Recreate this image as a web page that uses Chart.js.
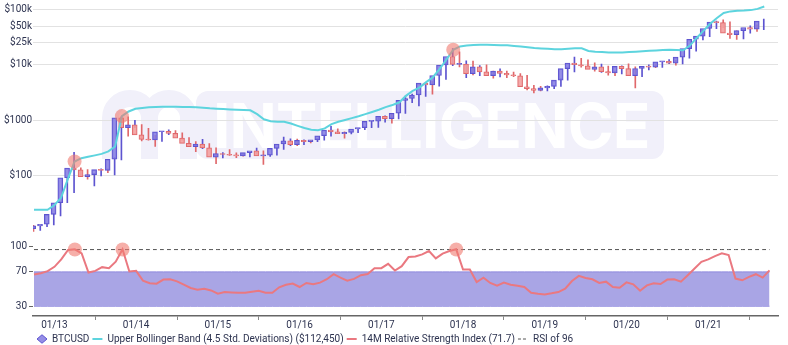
<!DOCTYPE html>
<html>
<head>
<meta charset="utf-8">
<script src="https://cdn.jsdelivr.net/npm/chart.js@4.4.1/dist/chart.umd.min.js"></script>
<style>
  html, body { margin: 0; padding: 0; background: #fff; }
  #wrap { width: 788px; height: 345px; }
</style>
</head>
<body>
<div id="wrap"><canvas id="btcChart"></canvas></div>
<script>
// monthly candles, 10/12 .. 10/21
const months = [
  '10/12','11/12','12/12',
  '01/13','02/13','03/13','04/13','05/13','06/13','07/13','08/13','09/13','10/13','11/13','12/13',
  '01/14','02/14','03/14','04/14','05/14','06/14','07/14','08/14','09/14','10/14','11/14','12/14',
  '01/15','02/15','03/15','04/15','05/15','06/15','07/15','08/15','09/15','10/15','11/15','12/15',
  '01/16','02/16','03/16','04/16','05/16','06/16','07/16','08/16','09/16','10/16','11/16','12/16',
  '01/17','02/17','03/17','04/17','05/17','06/17','07/17','08/17','09/17','10/17','11/17','12/17',
  '01/18','02/18','03/18','04/18','05/18','06/18','07/18','08/18','09/18','10/18','11/18','12/18',
  '01/19','02/19','03/19','04/19','05/19','06/19','07/19','08/19','09/19','10/19','11/19','12/19',
  '01/20','02/20','03/20','04/20','05/20','06/20','07/20','08/20','09/20','10/20','11/20','12/20',
  '01/21','02/21','03/21','04/21','05/21','06/21','07/21','08/21','09/21','10/21'
];

const open = [
  12.4, 11.2, 12.6,
  13.5, 20.4, 33, 93, 139, 129, 97, 106, 130, 126, 200, 1120,
  740, 830, 550, 455, 445, 625, 640, 585, 480, 387, 338, 375,
  320, 217, 254, 244, 236, 230, 263, 284, 230, 236, 314, 377,
  430, 368, 437, 416, 448, 531, 673, 624, 575, 608, 701, 742,
  963, 970, 1190, 1080, 1348, 2300, 2480, 2875, 4700, 4340, 6450, 9950,
  14150, 10220, 10400, 6930, 9240, 7500, 6400, 7730, 7030, 6620, 6370, 4040,
  3740, 3460, 3850, 4100, 5320, 8570, 10820, 10080, 9630, 8300, 9200, 7570,
  7190, 9390, 8600, 6410, 8630, 9450, 9140, 11350, 11650, 10780, 13800, 19700,
  29000, 33100, 45200, 58800, 57700, 37300, 35000, 41500, 47100, 43800
];
const high = [
  12.9, 12.7, 13.9,
  21, 33.5, 95, 266, 140, 130, 111, 135, 135, 215, 1165, 1160,
  1000, 840, 720, 540, 630, 680, 660, 600, 490, 415, 458, 385,
  320, 265, 300, 262, 247, 268, 317, 285, 245, 333, 500, 465,
  460, 448, 440, 468, 550, 780, 703, 624, 612, 720, 755, 975,
  1150, 1210, 1290, 1350, 2760, 2980, 2920, 4750, 5000, 6470, 11400, 19700,
  17200, 11800, 11700, 9740, 9990, 7770, 8470, 7760, 7410, 7000, 6520, 4270,
  4100, 4200, 4130, 5620, 9100, 13900, 13200, 12330, 10900, 10400, 9500, 7750,
  9580, 10500, 9200, 9470, 10070, 10400, 11440, 12480, 12070, 14100, 19900, 29300,
  41950, 58350, 61800, 64900, 59500, 41300, 42300, 50500, 52900, 66900
];
const low = [
  10, 10.5, 12.2,
  13.2, 19.1, 33, 50, 97, 88, 66, 100, 115, 105, 195, 520,
  740, 430, 440, 340, 420, 555, 565, 440, 365, 275, 310, 310,
  166, 212, 235, 214, 227, 220, 255, 162, 225, 236, 300, 350,
  350, 365, 392, 415, 440, 520, 580, 480, 570, 605, 680, 740,
  750, 930, 890, 1060, 1345, 2100, 1830, 2710, 2970, 4150, 5500, 9650,
  9200, 5900, 6600, 6430, 7060, 5770, 6100, 5880, 6150, 6200, 3560, 3120,
  3400, 3390, 3730, 4080, 5310, 7500, 9070, 9400, 7710, 7300, 6530, 6430,
  6850, 8450, 3860, 6150, 8120, 8900, 8990, 10550, 9880, 10420, 13200, 17600,
  28100, 32300, 45000, 47000, 30000, 28800, 29300, 37300, 40000, 43300
];
const close = [
  11.2, 12.6, 13.5,
  20.4, 33, 93, 139, 129, 97, 106, 130, 126, 200, 1120, 740,
  830, 550, 455, 445, 625, 640, 585, 480, 387, 338, 375, 320,
  217, 254, 244, 236, 230, 263, 284, 230, 236, 314, 377, 430,
  368, 437, 416, 448, 531, 673, 624, 575, 608, 701, 742, 963,
  970, 1190, 1080, 1348, 2300, 2480, 2875, 4700, 4340, 6450, 9950, 14150,
  10220, 10400, 6930, 9240, 7500, 6400, 7730, 7030, 6620, 6370, 4040, 3740,
  3460, 3850, 4100, 5320, 8570, 10820, 10080, 9630, 8300, 9200, 7570, 7190,
  9390, 8600, 6410, 8630, 9450, 9140, 11350, 11650, 10780, 13800, 19700, 29000,
  33100, 45200, 58800, 57700, 37300, 35000, 41500, 47100, 43800, 61300
];

const upperBand = [
  24.6, 24.6, 24.6,
  29.7, 40.4, 88, 182, 209, 222, 235, 250, 277, 340, 1197, 1450,
  1625, 1680, 1720, 1750, 1767, 1767, 1760, 1750, 1740, 1720, 1690, 1650,
  1625, 1600, 1580, 1560, 1540, 1520, 1300, 1050, 970, 950, 950, 880,
  800, 730, 680, 666, 720, 860, 950, 1020, 1100, 1190, 1300, 1420,
  1560, 1740, 1900, 2100, 2770, 3400, 3900, 4900, 6000, 8500, 12500, 18700,
  21500, 22300, 22800, 23000, 23000, 22900, 22700, 22500, 22000, 21500, 20800, 20200,
  19800, 19500, 19200, 19200, 19500, 19900, 19900, 17800, 17200, 17000, 16800, 16700,
  16800, 17000, 17300, 17600, 17900, 18200, 18500, 18700, 18500, 18300, 22300, 30600,
  41000, 55000, 70000, 86000, 92000, 94000, 95000, 97000, 102000, 112450
];

const rsi = [
  66.9, 68.4, 70.8,
  75.9, 84.5, 95.5, 96.3, 91.6, 69.2, 71.2, 75.5, 74.3, 81.8, 96.3, 70.4,
  71.2, 59.8, 56.7, 56.3, 61, 61.4, 59, 55.1, 51.2, 49.2, 50.4, 48.4,
  44.5, 46.5, 46.1, 45.7, 45.7, 46.9, 48, 45.7, 45.7, 52, 55, 56.4,
  52.4, 57.1, 55.5, 57.5, 61.4, 67.3, 63.3, 59.8, 61.8, 66.1, 67.6, 74.3,
  74.3, 79.4, 71.6, 76.7, 87.3, 88, 90.4, 94.3, 85.7, 91.2, 94.3, 96.3,
  72.7, 72.7, 58.2, 63.3, 57.1, 53.9, 57.5, 55.1, 53.9, 52.4, 45.7, 44.5,
  43.7, 45, 46.5, 50.4, 59.4, 65.3, 62.9, 61.4, 57.1, 58.6, 52.4, 51.6,
  57.8, 55.5, 48, 54.3, 56.7, 55.9, 61, 61.4, 58.6, 66.1, 73.9, 81.8,
  84.5, 88.4, 91.6, 89.6, 62.2, 60.2, 64.1, 67.3, 63.3, 71.7
];

// months where RSI touched the 96 level
const peakIdx = [6, 13, 62];
const rsiBand = [30, 70];
const rsiAlert = 96;
const priceTicks = [100, 1000, 10000, 25000, 50000, 100000];
const rsiTicks = [30, 70, 100];

const upFill = 'rgba(130,122,226,0.85)', upLine = '#5d54d0';
const dnFill = 'rgba(243,160,160,0.9)', dnLine = '#e0686b';
const bandColor = '#5dd4de';
const rsiColor = '#ea7880';
const peakColor = 'rgba(240,122,112,0.6)';
const textColor = '#2d3350';

const idx = months.map((m, i) => i);
const up = close.map((c, i) => c >= open[i]);
const yearTicks = idx.filter(i => months[i].startsWith('01/'));

function priceLabel(v) {
  return v >= 10000 ? '$' + (v / 1000) + 'k' : '$' + v;
}

const legendEntries = [
  { text: 'BTCUSD', pointStyle: 'rectRot', fillStyle: upFill, strokeStyle: upLine, lineWidth: 1 },
  { text: 'Upper Bollinger Band (4.5 Std. Deviations) ($' + upperBand[upperBand.length - 1].toLocaleString('en-US') + ')',
    pointStyle: 'line', fillStyle: bandColor, strokeStyle: bandColor, lineWidth: 2 },
  { text: '14M Relative Strength Index (' + rsi[rsi.length - 1] + ')',
    pointStyle: 'line', fillStyle: rsiColor, strokeStyle: rsiColor, lineWidth: 2 },
  { text: 'RSI of ' + rsiAlert, pointStyle: 'line', fillStyle: '#555', strokeStyle: '#555', lineWidth: 1, lineDash: [3, 2] }
];

// faint brand mark behind the plot
const watermark = {
  id: 'watermark',
  beforeDraw(chart) {
    const ctx = chart.ctx;
    ctx.save();
    ctx.fillStyle = '#f1f0fa';
    ctx.strokeStyle = '#f1f0fa';
    ctx.beginPath();
    ctx.roundRect(196, 91, 468, 68, 12);
    ctx.fill();
    ctx.lineWidth = 17;
    ctx.beginPath();
    ctx.moveTo(110.5, 159);
    ctx.arc(130, 118, 19.5, Math.PI, 0);
    ctx.lineTo(149.5, 159);
    ctx.moveTo(149.5, 118);
    ctx.arc(169, 118, 19.5, Math.PI, 0);
    ctx.lineTo(188.5, 159);
    ctx.stroke();
    ctx.fillStyle = '#ffffff';
    ctx.font = '700 62px Inter';
    ctx.textBaseline = 'alphabetic';
    const w = ctx.measureText('INTELLIGENCE').width;
    ctx.letterSpacing = ((437 - w) / 11).toFixed(1) + 'px';
    ctx.fillText('INTELLIGENCE', 213, 148);
    ctx.restore();
  }
};

const legendShift = {
  id: 'legendShift',
  afterLayout(chart) { chart.legend.left = 34; }
};

// fixed gutter, no extra room reserved for edge labels
function fitLeftAxis(s) {
  s.width = 33;
  s.paddingTop = 0;
  s.paddingBottom = 0;
}

Chart.defaults.font.family = 'Roboto';
Chart.defaults.font.size = 10;
Chart.defaults.color = textColor;

new Chart(document.getElementById('btcChart'), {
  type: 'bar',
  data: {
    datasets: [
      {
        type: 'line', label: 'peaks', xAxisID: 'xc', yAxisID: 'y',
        data: peakIdx.map(i => ({ x: i, y: upperBand[i] })),
        showLine: false, pointRadius: 7, pointBackgroundColor: peakColor, pointBorderWidth: 0, order: 0
      },
      {
        type: 'line', label: 'Upper Bollinger Band', xAxisID: 'xc', yAxisID: 'y',
        data: idx.map(i => ({ x: i, y: upperBand[i] })),
        borderColor: bandColor, borderWidth: 2, pointRadius: 0, tension: 0, order: 1
      },
      {
        label: 'BTCUSD', xAxisID: 'xc', yAxisID: 'y',
        data: idx.map(i => ({ x: i, y: [open[i], close[i]] })),
        backgroundColor: up.map(u => u ? upFill : dnFill),
        borderColor: up.map(u => u ? upLine : dnLine),
        borderWidth: 1, borderSkipped: false, barThickness: 5, minBarLength: 1, order: 2
      },
      {
        label: 'wicks', xAxisID: 'xc', yAxisID: 'y',
        data: idx.map(i => ({ x: i, y: [low[i], high[i]] })),
        backgroundColor: up.map(u => u ? upLine : dnLine),
        borderWidth: 0, barThickness: 1, order: 3
      },
      {
        type: 'line', label: 'rsi peaks', xAxisID: 'x', yAxisID: 'y2',
        data: peakIdx.map(i => ({ x: i, y: rsiAlert })),
        showLine: false, pointRadius: 7, pointBackgroundColor: peakColor, pointBorderWidth: 0, order: 4
      },
      {
        type: 'line', label: '14M RSI', xAxisID: 'x', yAxisID: 'y2',
        data: idx.map(i => ({ x: i, y: rsi[i] })),
        borderColor: rsiColor, borderWidth: 2, pointRadius: 0, tension: 0, order: 5
      },
      {
        type: 'line', label: 'RSI of 96', xAxisID: 'x', yAxisID: 'y2',
        data: idx.map(i => ({ x: i, y: rsiAlert })),
        borderColor: '#555', borderWidth: 1, borderDash: [4, 3], pointRadius: 0, order: 6
      },
      {
        type: 'line', label: 'band top', xAxisID: 'x', yAxisID: 'y2',
        data: idx.map(i => ({ x: i, y: rsiBand[1] })),
        borderColor: '#8d87dd', borderWidth: 1, pointRadius: 0,
        fill: { value: rsiBand[0] }, backgroundColor: '#a9a5e5', order: 7
      },
      {
        type: 'line', label: 'band bottom', xAxisID: 'x', yAxisID: 'y2',
        data: idx.map(i => ({ x: i, y: rsiBand[0] })),
        borderColor: '#8d87dd', borderWidth: 1, pointRadius: 0, order: 8
      }
    ]
  },
  options: {
    responsive: true,
    maintainAspectRatio: false,
    animation: false,
    layout: { autoPadding: false, padding: { top: 2, right: 10, bottom: -9, left: 0 } },
    plugins: {
      tooltip: { enabled: false },
      legend: {
        position: 'bottom',
        align: 'start',
        onClick: null,
        labels: {
          usePointStyle: true,
          pointStyleWidth: 10,
          boxHeight: 6,
          padding: 3,
          color: textColor,
          font: { size: 10 },
          generateLabels: () => legendEntries.map((e, i) => Object.assign({ hidden: false, datasetIndex: i, fontColor: textColor }, e))
        }
      }
    },
    scales: {
      xc: {
        type: 'linear', display: false, offset: false,
        min: -0.148, max: 110.03
      },
      x: {
        type: 'linear', position: 'bottom', offset: false,
        min: -0.147, max: 109.25,
        afterBuildTicks: s => { s.ticks = yearTicks.map(v => ({ value: v })); },
        ticks: {
          autoSkip: false, maxRotation: 0, padding: 0,
          font: { size: 10, lineHeight: 1.1 },
          callback: v => months[v]
        },
        grid: { drawOnChartArea: false, tickLength: 4, color: '#888' },
        border: { display: true, color: '#666', width: 1.5 }
      },
      y: {
        type: 'logarithmic', position: 'left', stack: 'panes', stackWeight: 235, weight: 2,
        min: 7.25, max: 135800,
        afterBuildTicks: s => { s.ticks = priceTicks.map(v => ({ value: v })); },
        afterFit: fitLeftAxis,
        ticks: { padding: 1, callback: v => priceLabel(v) },
        grid: { color: '#e2e2e2', drawTicks: false },
        border: { display: false }
      },
      y2: {
        type: 'linear', position: 'left', stack: 'panes', stackWeight: 76, weight: 1,
        min: 18.6, max: 108,
        afterBuildTicks: s => { s.ticks = rsiTicks.map(v => ({ value: v })); },
        afterFit: fitLeftAxis,
        ticks: { padding: 2 },
        grid: { drawOnChartArea: false, tickLength: 4, color: '#666' },
        border: { display: false }
      }
    }
  },
  plugins: [watermark, legendShift]
});
</script>
</body>
</html>
